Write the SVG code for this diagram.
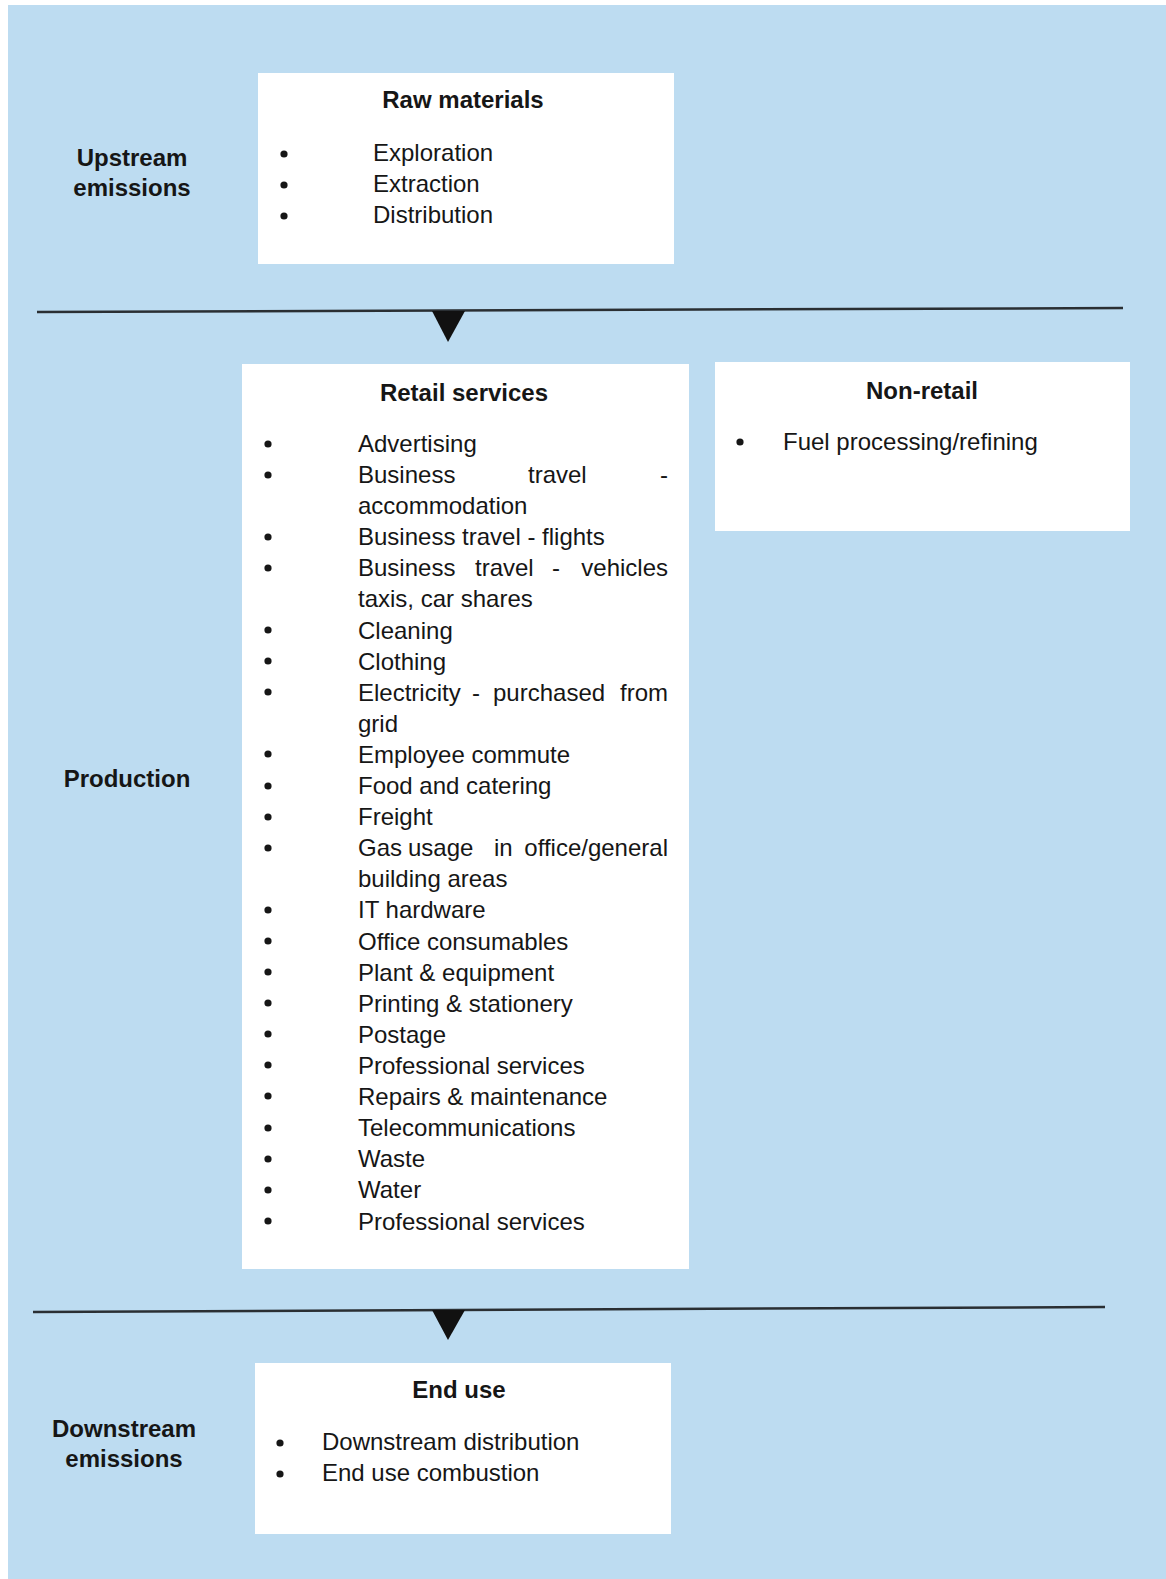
<svg xmlns="http://www.w3.org/2000/svg" width="1166" height="1579" viewBox="0 0 1166 1579">
<style>
text{font-family:"Liberation Sans",Arial,sans-serif;font-size:24px;fill:#161616}
.b{font-weight:bold}
.c{text-anchor:middle}
.e{text-anchor:end}
.box{fill:#ffffff}
.dot{fill:#161616}
.rule{stroke:#2a2f33;stroke-width:2.5;fill:none}
.tri{fill:#111}
</style>
<rect x="0" y="0" width="1166" height="1579" fill="#ffffff"/>
<rect x="8" y="5" width="1158" height="1574" fill="#bddcf1"/>

<g id="connectors">
<line class="rule" x1="37" y1="312" x2="1123" y2="308"/>
<polygon class="tri" points="432,311 465,311 448,342"/>
<line class="rule" x1="33" y1="1312" x2="1105" y2="1307"/>
<polygon class="tri" points="432,1310 465,1310 448,1340"/>
</g>

<g id="label-upstream">
<text class="b c" x="132" y="166">Upstream</text>
<text class="b c" x="132" y="196">emissions</text>
</g>
<g id="label-production">
<text class="b c" x="127" y="787">Production</text>
</g>
<g id="label-downstream">
<text class="b c" x="124" y="1437">Downstream</text>
<text class="b c" x="124" y="1467">emissions</text>
</g>

<g id="raw-materials">
<rect class="box" x="258" y="73" width="416" height="191"/>
<text class="b c" x="463" y="108">Raw materials</text>
<circle class="dot" cx="284" cy="154" r="3.6"/>
<circle class="dot" cx="284" cy="185" r="3.6"/>
<circle class="dot" cx="284" cy="216" r="3.6"/>
<text x="373" y="161">Exploration</text>
<text x="373" y="192">Extraction</text>
<text x="373" y="223">Distribution</text>
</g>

<g id="retail-services">
<rect class="box" x="242" y="364" width="447" height="905"/>
<text class="b c" x="464" y="401">Retail services</text>
<g id="retail-bullets">
<circle class="dot" cx="268" cy="444" r="3.6"/>
<circle class="dot" cx="268" cy="475" r="3.6"/>
<circle class="dot" cx="268" cy="537" r="3.6"/>
<circle class="dot" cx="268" cy="568" r="3.6"/>
<circle class="dot" cx="268" cy="630" r="3.6"/>
<circle class="dot" cx="268" cy="661" r="3.6"/>
<circle class="dot" cx="268" cy="692" r="3.6"/>
<circle class="dot" cx="268" cy="754" r="3.6"/>
<circle class="dot" cx="268" cy="786" r="3.6"/>
<circle class="dot" cx="268" cy="817" r="3.6"/>
<circle class="dot" cx="268" cy="848" r="3.6"/>
<circle class="dot" cx="268" cy="910" r="3.6"/>
<circle class="dot" cx="268" cy="941" r="3.6"/>
<circle class="dot" cx="268" cy="972" r="3.6"/>
<circle class="dot" cx="268" cy="1003" r="3.6"/>
<circle class="dot" cx="268" cy="1034" r="3.6"/>
<circle class="dot" cx="268" cy="1065" r="3.6"/>
<circle class="dot" cx="268" cy="1096" r="3.6"/>
<circle class="dot" cx="268" cy="1128" r="3.6"/>
<circle class="dot" cx="268" cy="1159" r="3.6"/>
<circle class="dot" cx="268" cy="1190" r="3.6"/>
<circle class="dot" cx="268" cy="1221" r="3.6"/>
</g>
<text x="358" y="452">Advertising</text>
<text x="358" y="483">Business</text>
<text x="528" y="483">travel</text>
<text class="e" x="668" y="483">-</text>
<text x="358" y="514">accommodation</text>
<text x="358" y="545">Business travel - flights</text>
<text x="358" y="576">Business</text>
<text x="475" y="576">travel</text>
<text x="552" y="576">-</text>
<text class="e" x="668" y="576">vehicles</text>
<text x="358" y="607">taxis, car shares</text>
<text x="358" y="639">Cleaning</text>
<text x="358" y="670">Clothing</text>
<text x="358" y="701">Electricity</text>
<text x="472" y="701">-</text>
<text x="493" y="701">purchased</text>
<text class="e" x="668" y="701">from</text>
<text x="358" y="732">grid</text>
<text x="358" y="763">Employee commute</text>
<text x="358" y="794">Food and catering</text>
<text x="358" y="825">Freight</text>
<text x="358" y="856">Gas</text>
<text x="408" y="856">usage</text>
<text x="494" y="856">in</text>
<text class="e" x="668" y="856">office/general</text>
<text x="358" y="887">building areas</text>
<text x="358" y="918">IT hardware</text>
<text x="358" y="950">Office consumables</text>
<text x="358" y="981">Plant &amp; equipment</text>
<text x="358" y="1012">Printing &amp; stationery</text>
<text x="358" y="1043">Postage</text>
<text x="358" y="1074">Professional services</text>
<text x="358" y="1105">Repairs &amp; maintenance</text>
<text x="358" y="1136">Telecommunications</text>
<text x="358" y="1167">Waste</text>
<text x="358" y="1198">Water</text>
<text x="358" y="1230">Professional services</text>
</g>

<g id="non-retail">
<rect class="box" x="715" y="362" width="415" height="169"/>
<text class="b c" x="922" y="399">Non-retail</text>
<circle class="dot" cx="740" cy="442" r="3.6"/>
<text x="783" y="450">Fuel processing/refining</text>
</g>

<g id="end-use">
<rect class="box" x="255" y="1363" width="416" height="171"/>
<text class="b c" x="459" y="1398">End use</text>
<circle class="dot" cx="280" cy="1443" r="3.6"/>
<circle class="dot" cx="280" cy="1474" r="3.6"/>
<text x="322" y="1450">Downstream distribution</text>
<text x="322" y="1481">End use combustion</text>
</g>
</svg>
